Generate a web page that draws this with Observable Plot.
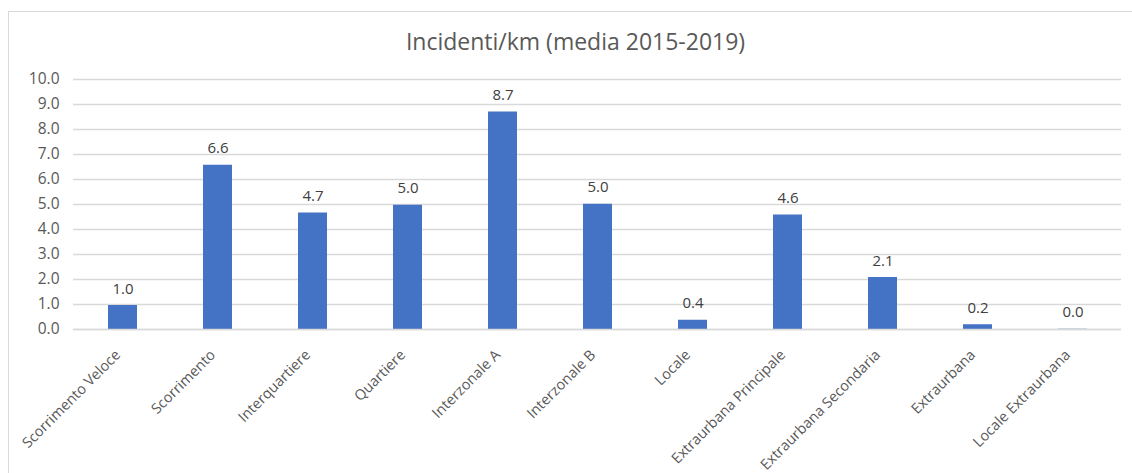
<!DOCTYPE html>
<html>
<head>
<meta charset="utf-8">
<script src="https://cdn.jsdelivr.net/npm/d3@7"></script>
<script src="https://cdn.jsdelivr.net/npm/@observablehq/plot@0.6"></script>
<style>
  html, body { margin: 0; padding: 0; background: #fff; }
  #wrap { position: relative; width: 1132px; height: 473px; overflow: hidden; }
  #frame { position: absolute; left: 8px; top: 11px; width: 1130px; height: 480px; border: 1px solid #d9d9d9; box-sizing: border-box; }
  #title { position: absolute; left: 0px; width: 1151px; top: 26px; line-height: 30px; text-align: center; font-family: "Open Sans", sans-serif; font-size: 23px; color: #595959; }
  #chart { position: absolute; left: 0; top: 0; }
</style>
</head>
<body>
<div id="wrap">
  <div id="frame"></div>
  <div id="title">Incidenti/km (media 2015-2019)</div>
  <div id="chart"></div>
</div>
<script>
const categories = ["Scorrimento Veloce", "Scorrimento", "Interquartiere", "Quartiere", "Interzonale A", "Interzonale B", "Locale", "Extraurbana Principale", "Extraurbana Secondaria", "Extraurbana", "Locale Extraurbana"];
const values = [0.96, 6.57, 4.66, 4.97, 8.70, 5.01, 0.37, 4.58, 2.08, 0.19, 0.01];
const yTicks = [0, 1, 2, 3, 4, 5, 6, 7, 8, 9, 10];

const data = categories.map((c, i) => ({ category: c, value: values[i] }));
const fmt = d3.format(".1f");

const chart = Plot.plot({
  width: 1132,
  height: 473,
  marginLeft: 73,
  marginRight: 11,
  marginTop: 79,
  marginBottom: 144,
  style: { fontFamily: "'Open Sans', sans-serif", fontSize: "14px", color: "#595959", background: "transparent" },
  x: { domain: categories, paddingInner: 0.695, paddingOuter: 0.3475, label: null },
  y: { domain: [0, 10], label: null },
  marks: [
    Plot.gridY(yTicks, { stroke: "#d9d9d9", strokeOpacity: 1, strokeWidth: 1.5 }),
    Plot.axisY({ ticks: yTicks, tickFormat: fmt, tickSize: 0, tickPadding: 14, fontSize: 15.5, fill: "#595959" }),
    Plot.axisX({ tickRotate: -45, tickSize: 0, tickPadding: 19, dx: -5, dy: 4, fontSize: 14.5, fill: "#595959" }),
    Plot.barY(data, { x: "category", y: "value", fill: "#4472C4" }),
    Plot.ruleY([0], { stroke: "#d9d9d9", strokeWidth: 1.5 }),
    Plot.text(data, { x: "category", y: "value", text: d => fmt(d.value), lineAnchor: "bottom", dy: -12, fontSize: 15, fill: "#404040" })
  ]
});
document.getElementById("chart").appendChild(chart);
</script>
</body>
</html>
